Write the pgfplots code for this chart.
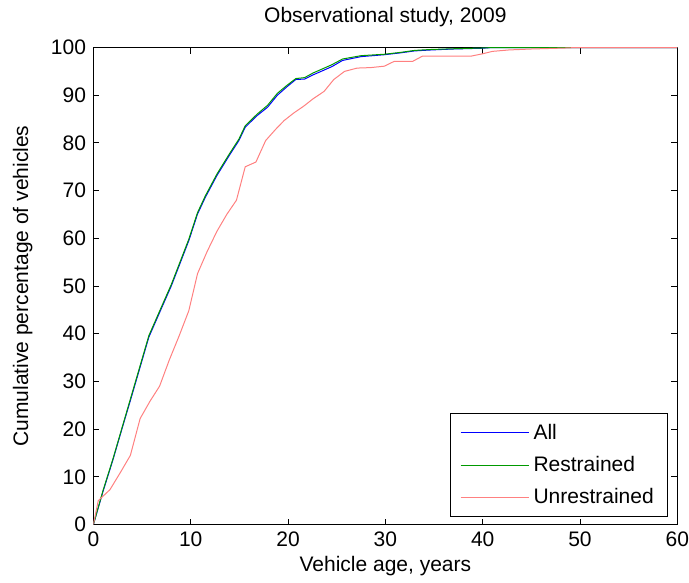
\documentclass[border=0pt]{standalone}
\usepackage{pgfplots}
\pgfplotsset{compat=1.18}
\usepackage{fontspec}
\setmainfont{Liberation Sans}
\definecolor{cblue}{rgb}{0,0,1}
\definecolor{cgreen}{rgb}{0,0.6,0}
\definecolor{cred}{rgb}{1,0.5,0.5}
\begin{document}
\fontsize{10.5}{12.6}\selectfont
\begin{tikzpicture}
\begin{axis}[
  scale only axis,
  width=292pt, height=238.5pt,
  xmin=0, xmax=60, ymin=0, ymax=100,
  xtick={0,10,...,60}, ytick={0,10,...,100},
  tick align=inside,
  major tick length=3pt,
  tick style={black, line width=0.5pt},
  axis line style={line width=0.6pt},
  /pgf/number format/assume math mode=true,
  ticklabel style={font=\fontsize{10.5}{12.6}\selectfont},
  xticklabel style={inner xsep=0pt},
  label style={font=\fontsize{10.5}{12.6}\selectfont},
  title style={font=\fontsize{10.5}{12.6}\selectfont, yshift=0.8pt},
  title={Observational study, 2009},
  xlabel={Vehicle age, years},
  ylabel={Cumulative percentage of vehicles},
  xlabel style={yshift=2.5pt},
  ylabel style={inner ysep=6.5pt, yshift=-1pt},
  legend style={at={(0.9846,0.0147)}, anchor=south east, draw=black, line width=0.6pt,
    font=\fontsize{10.5}{12.6}\selectfont, row sep=3pt, inner xsep=5pt, inner ysep=3pt},
  legend cell align=left,
  legend image post style={line width=0.5pt},
  legend image code/.code={\draw[#1] (0cm,0cm) -- (1.2cm,0cm);},
]
\addplot[cblue, line width=0.5pt] coordinates {
(0,0) (1,7) (2,13.5) (3,20.5) (3.8,26) (4.8,33) (5.7,39.3) (6.9,44.9) (8,50) (8.95,55)
(9.8,59.5) (10.7,65.1) (11.5,68.6) (12.7,73.2) (14,77.5) (14.95,80.5) (15.6,83.3)
(16.8,85.7) (17.9,87.5) (18.9,90) (19.9,91.8) (20.8,93.3) (21.7,93.4) (22.6,94.3)
(23.5,95.1) (24.5,96) (25.6,97.3) (27.5,98.1) (29.9,98.5) (31.6,98.9) (33,99.3)
(34.7,99.5) (37,99.7) (39.8,99.85) (41,100) (50,100) (60,100)
};
\addlegendentry{All}
\addplot[cgreen, line width=0.5pt] coordinates {
(0,0) (1,7.2) (2,13.7) (3,20.7) (3.8,26.3) (4.8,33.3) (5.7,39.6) (6.9,45.2) (8,50.3) (8.95,55.3)
(9.8,59.8) (10.7,65.4) (11.5,68.9) (12.7,73.5) (14,77.8) (14.95,80.8) (15.6,83.6)
(16.8,86) (17.9,87.9) (18.9,90.4) (19.9,92.1) (20.8,93.5) (21.7,93.7) (22.6,94.7)
(23.5,95.5) (24.5,96.4) (25.6,97.6) (27.5,98.3) (29.9,98.6) (31.6,99) (33,99.4)
(34.7,99.6) (37,99.75) (39.8,99.9) (41,100) (50,100) (60,100)
};
\addlegendentry{Restrained}
\addplot[cred, line width=0.5pt] coordinates {
(0,0) (0.5,5) (1.7,7.3) (2.8,11) (3.8,14.5) (4.8,22.2) (5.8,25.8) (6.8,29) (7.8,34.5)
(8.8,39.5) (9.8,44.8) (10.7,52.6) (11.7,57.3) (12.7,61.5) (13.7,65) (14.7,68)
(15.6,75) (16.7,76) (17.7,80.5) (18.7,82.8) (19.6,84.7) (20.6,86.3) (21.6,87.7)
(22.6,89.3) (23.7,90.8) (24.7,93.3) (25.8,95) (27.1,95.7) (28.5,95.8) (29.9,96.1)
(30.9,97.1) (32.8,97.1) (33.8,98.2) (38.8,98.2) (40,98.7) (41,99.2) (42.7,99.5)
(45,99.7) (48.4,99.9) (49.5,100) (60,100)
};
\addlegendentry{Unrestrained}
\end{axis}
\end{tikzpicture}
\end{document}
